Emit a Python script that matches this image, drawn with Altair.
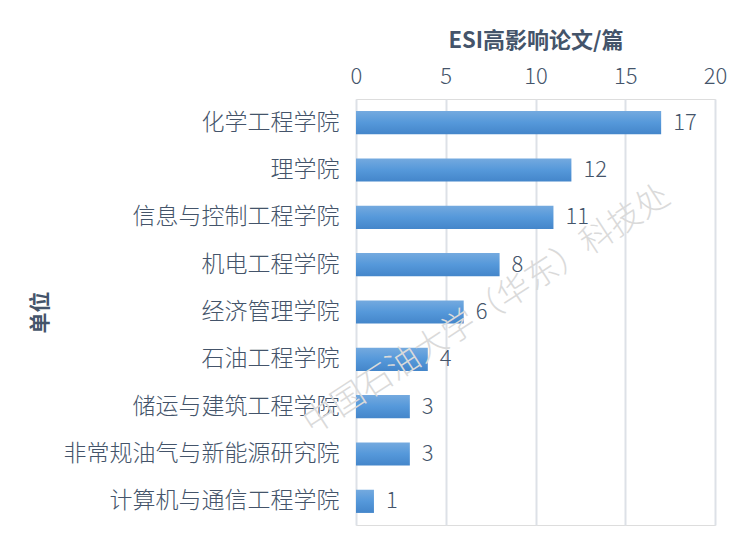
import altair as alt
import pandas as pd

units = ["化学工程学院", "理学院", "信息与控制工程学院", "机电工程学院", "经济管理学院",
         "石油工程学院", "储运与建筑工程学院", "非常规油气与新能源研究院", "计算机与通信工程学院"]
papers = [17, 12, 11, 8, 6, 4, 3, 3, 1]
x_ticks = [0, 5, 10, 15, 20]
watermark = "中国石油大学（华东）科技处"

df = pd.DataFrame({"unit": units, "papers": papers})

FONT = "Noto Sans CJK SC"
TXT = "#44546a"

y_enc = alt.Y("unit:N", sort=units,
              scale=alt.Scale(paddingInner=0.51, paddingOuter=0.255),
              axis=alt.Axis(title="单位", titleFontWeight="bold", titleFontSize=21,
                            titleColor=TXT, titleFont=FONT, titleAngle=270,
                            titleX=-316, titleY=213, titleAlign="center", titleBaseline="middle",
                            labelFontSize=23, labelColor=TXT, labelFont=FONT,
                            labelFontWeight=300,
                            labelPadding=17, ticks=False, domain=False, grid=False,
                            labelLimit=400))
x_enc = alt.X("papers:Q", scale=alt.Scale(domain=[0, 20], nice=False),
              axis=alt.Axis(orient="top", values=x_ticks, title="ESI高影响论文/篇",
                            titleFontWeight="bold", titleFontSize=22, titleColor=TXT,
                            titleFont=FONT, titlePadding=13,
                            labelFontSize=22, labelColor=TXT, labelFont=FONT,
                            labelFontWeight=300, labelFlush=False,
                            labelPadding=11, ticks=False, domain=False,
                            grid=True, gridColor="#dde1e7", gridWidth=2))

base = alt.Chart(df)

bars = base.mark_bar(
    color=alt.Gradient(gradient="linear",
                       stops=[alt.GradientStop(color="#74aadf", offset=0),
                              alt.GradientStop(color="#5598da", offset=0.5),
                              alt.GradientStop(color="#4486ca", offset=1)],
                       x1=0, x2=0, y1=0, y2=1)
).encode(x=x_enc, y=y_enc)

labels = base.mark_text(align="left", baseline="middle", dx=12, fontSize=22,
                        fontWeight=300, font=FONT, color=TXT).encode(
    x="papers:Q", y=alt.Y("unit:N", sort=units), text="papers:Q")

wm = alt.Chart(pd.DataFrame({"t": [watermark]})).mark_text(
    angle=327, fontSize=33, font=FONT, fontWeight=300, color="#dadada",
    align="center", baseline="middle"
).encode(x=alt.value(131), y=alt.value(211), text="t:N")

chart = alt.layer(bars, labels, wm).properties(
    width=359, height=426,
    autosize=alt.AutoSizeParams(type="none"),
    padding={"left": 348, "top": 91, "right": 20, "bottom": 20},
).configure_view(stroke=None).configure(background="white")

chart.save("out.html", embed_options={"renderer": "svg", "actions": False})
